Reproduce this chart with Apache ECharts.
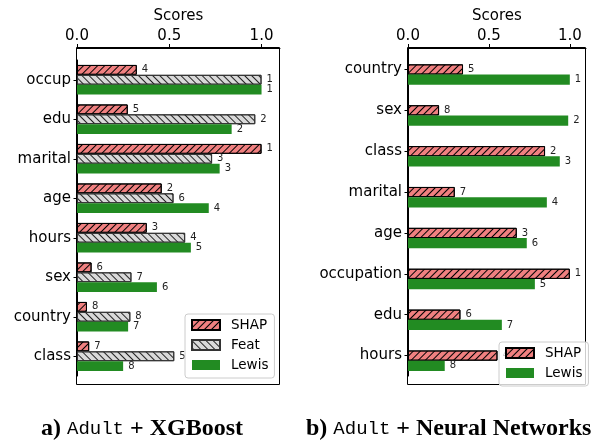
<!DOCTYPE html>
<html>
<head>
<meta charset="utf-8">
<script src="https://cdn.jsdelivr.net/npm/echarts@6/dist/echarts.min.js"></script>
<style>
  html, body { margin: 0; padding: 0; background: #fff; }
  #main { width: 592px; height: 440px; }
</style>
</head>
<body>
<div id="main"></div>
<script>
// a) Adult + XGBoost
var leftCats = ['occup', 'edu', 'marital', 'age', 'hours', 'sex', 'country', 'class'];
var leftShap = [0.324, 0.275, 1.0, 0.459, 0.378, 0.079, 0.054, 0.066];
var leftFeat = [1.0, 0.966, 0.732, 0.523, 0.586, 0.295, 0.289, 0.527];
var leftLewis = [1.0, 0.838, 0.773, 0.714, 0.617, 0.433, 0.277, 0.25];
var leftShapRank = [4, 5, 1, 2, 3, 6, 8, 7];
var leftFeatRank = [1, 2, 3, 6, 4, 7, 8, 5];
var leftLewisRank = [1, 2, 3, 4, 5, 6, 7, 8];

// b) Adult + Neural Networks
var rightCats = ['country', 'sex', 'class', 'marital', 'age', 'occupation', 'edu', 'hours'];
var rightShap = [0.340, 0.192, 0.847, 0.289, 0.672, 1.0, 0.324, 0.553];
var rightLewis = [1.0, 0.99, 0.938, 0.858, 0.734, 0.784, 0.580, 0.227];
var rightShapRank = [5, 8, 2, 7, 3, 1, 6, 4];
var rightLewisRank = [1, 2, 3, 4, 6, 5, 7, 8];

var xTicks = [0, 0.5, 1.0];

var FONT = 'DejaVu Sans';

// hatch patterns
function hatch (color, rot) {
    return {
        symbol: 'rect',
        symbolSize: 1,
        color: color,
        dashArrayX: [1, 0],
        dashArrayY: [1, 4],
        rotation: rot
    };
}

var shapStyle = { color: '#f08080', borderColor: '#000', borderWidth: 1, decal: hatch('#000', -Math.PI / 4) };
var featStyle = { color: '#d9d9d9', borderColor: '#333', borderWidth: 1, decal: hatch('#222', Math.PI / 4) };
var lewisStyle = { color: '#228b22', borderWidth: 0 };

function rankLabel (ranks) {
    return {
        show: true,
        position: 'right',
        distance: 5,
        fontFamily: FONT,
        fontSize: 10,
        color: '#222',
        formatter: function (p) { return String(ranks[p.dataIndex]); }
    };
}

function barSeries (name, values, ranks, style, idx) {
    return {
        name: name,
        type: 'bar',
        xAxisIndex: idx,
        yAxisIndex: idx,
        data: values,
        barWidth: '25%',
        barGap: '0%',
        itemStyle: style,
        label: rankLabel(ranks),
        emphasis: { disabled: true },
        animation: false
    };
}

function xAxisCfg (idx, offset) {
    return {
        type: 'value',
        gridIndex: idx,
        position: 'top',
        offset: offset,
        min: 0,
        max: 1.1,
        name: 'Scores',
        nameLocation: 'middle',
        nameGap: 23,
        nameTextStyle: { fontFamily: FONT, fontSize: 15, color: '#000' },
        axisLine: { show: true, lineStyle: { color: '#000', width: 1 } },
        axisTick: { show: true, length: 4, lineStyle: { color: '#000' }, customValues: xTicks },
        axisLabel: {
            fontFamily: FONT, fontSize: 15, color: '#000', margin: 4,
            customValues: xTicks,
            formatter: function (v) { return v.toFixed(1); }
        },
        splitLine: { show: false }
    };
}

function yAxisCfg (idx, cats) {
    return {
        type: 'category',
        gridIndex: idx,
        inverse: true,
        data: cats,
        axisLine: { show: true, lineStyle: { color: '#000', width: 1 } },
        axisTick: { show: true, alignWithLabel: true, length: 3.5, lineStyle: { color: '#000' } },
        axisLabel: { fontFamily: FONT, fontSize: 15, color: '#000', margin: 6 }
    };
}

function legendCfg (names, left, top) {
    return {
        data: names,
        orient: 'vertical',
        left: left,
        top: top,
        icon: 'rect',
        itemWidth: 28,
        itemHeight: 10,
        itemGap: 6,
        padding: [4, 6, 6, 6],
        borderColor: '#ccc',
        borderWidth: 1,
        borderRadius: 3,
        backgroundColor: 'rgba(255,255,255,0.8)',
        textStyle: { fontFamily: FONT, fontSize: 13.5, color: '#000', lineHeight: 14, padding: [0, 0, 0, 6] },
        selectedMode: false,
        z: 10
    };
}

var captionRich = {
    s: { fontFamily: 'Liberation Serif', fontWeight: 'bold', fontSize: 24, color: '#000' },
    m: { fontFamily: 'Liberation Mono', fontSize: 19, color: '#000' }
};

var option = {
    backgroundColor: '#fff',
    animation: false,
    grid: [
        { left: 77, top: 60, width: 203, height: 316 },
        { left: 408, top: 49, width: 178, height: 327 }
    ],
    xAxis: [xAxisCfg(0, 12), xAxisCfg(1, 1)],
    yAxis: [yAxisCfg(0, leftCats), yAxisCfg(1, rightCats)],
    legend: [
        legendCfg(['SHAP', 'Feat', 'Lewis'], 185, 314),
        legendCfg(['SHAP', 'Lewis'], 499, 342)
    ],
    series: [
        barSeries('SHAP', leftShap, leftShapRank, shapStyle, 0),
        barSeries('Feat', leftFeat, leftFeatRank, featStyle, 0),
        barSeries('Lewis', leftLewis, leftLewisRank, lewisStyle, 0),
        // empty slot so SHAP sits on the tick like the original
        { name: '_pad', type: 'bar', xAxisIndex: 1, yAxisIndex: 1, data: [], barWidth: '25%', barGap: '0%' },
        barSeries('SHAP', rightShap, rightShapRank, shapStyle, 1),
        barSeries('Lewis', rightLewis, rightLewisRank, lewisStyle, 1)
    ],
    graphic: [
        { type: 'rect', shape: { x: 76.5, y: 47.5, width: 203, height: 337 }, style: { fill: 'none', stroke: '#000', lineWidth: 1 }, z: 5, silent: true },
        { type: 'rect', shape: { x: 407.5, y: 47.5, width: 178, height: 337 }, style: { fill: 'none', stroke: '#000', lineWidth: 1 }, z: 5, silent: true },
        {
            type: 'text', left: 41, top: 417, silent: true,
            style: { text: '{s|a) }{m|Adult}{s| + XGBoost}', rich: captionRich }
        },
        {
            type: 'text', left: 306, top: 417, silent: true,
            style: { text: '{s|b) }{m|Adult}{s| + Neural Networks}', rich: captionRich }
        }
    ]
};

var chart = echarts.init(document.getElementById('main'), null, { renderer: 'canvas' });
chart.setOption(option);
</script>
</body>
</html>
